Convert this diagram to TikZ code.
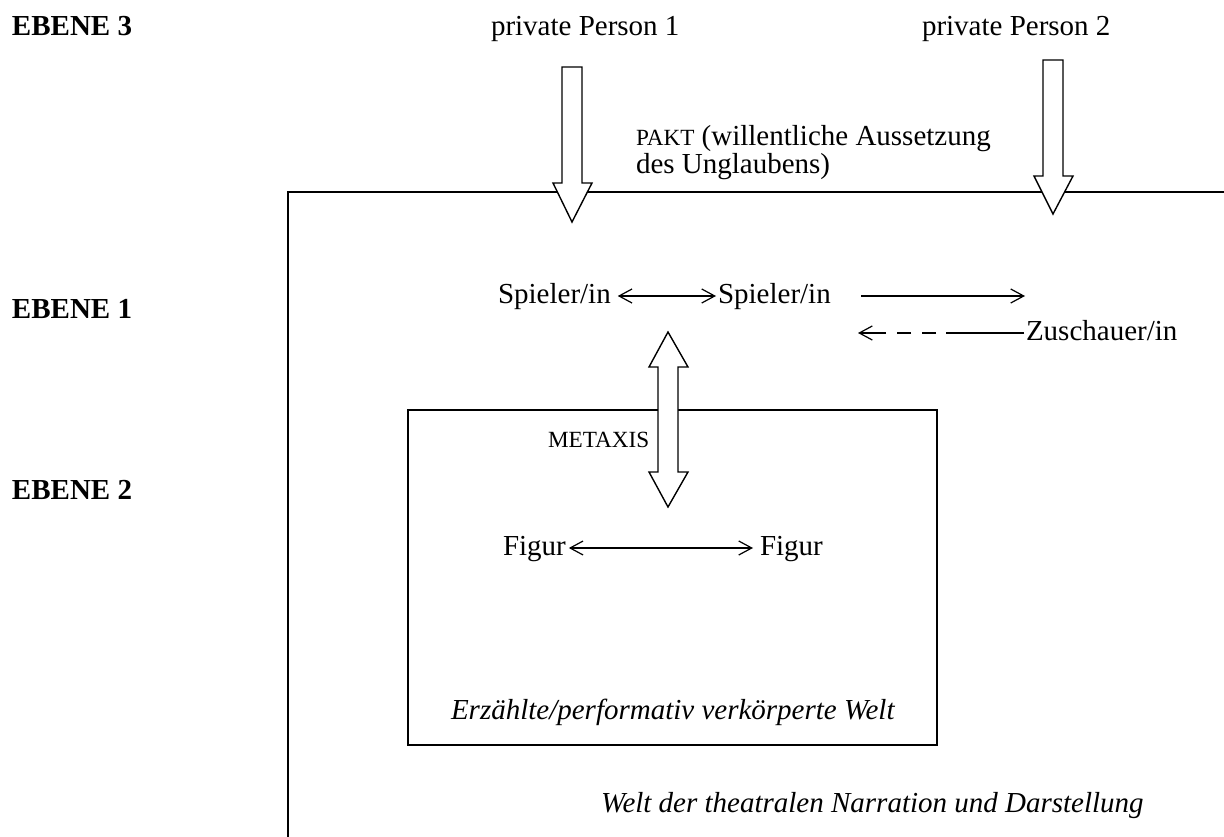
\documentclass[tikz,border=0pt]{standalone}
\usepackage{fontspec}
\setmainfont{Liberation Serif}
\usetikzlibrary{arrows.meta}
\newcommand\smallcapsize{\fontsize{23.2}{27}\selectfont}
\tikzset{
  txt/.style={inner sep=0pt, outer sep=0pt, anchor=base west, font=\fontsize{29}{33}\selectfont},
  lvl/.style={txt, font=\fontsize{29}{33}\selectfont\bfseries},
  blockarrow/.style={draw, line width=1.4pt, fill=white, line join=miter},
  barb/.tip={Straight Barb[length=13pt,width=14pt,line width=1.2pt]},
  conn/.style={line width=1.2pt, barb-barb},
  connr/.style={line width=1.2pt, -barb},
  box/.style={line width=2pt},
}
\begin{document}
\begin{tikzpicture}[x=1pt,y=-1pt]
\useasboundingbox (0,0) rectangle (1224,837);
% level labels
\node[lvl] (e3) at (12,36) {EBENE 3};
\node[lvl] (e1) at (12,318) {EBENE 1};
\node[lvl] (e2) at (12,499) {EBENE 2};
% private persons
\node[txt] (p1) at (491,36) {private Person 1};
\node[txt] (p2) at (922,36) {private Person 2};
% outer box (world of theatrical narration)
\draw[box] (1224,192) -- (288,192) -- (288,837);
% block arrows down
\draw[blockarrow] (562,67) -- (582,67) -- (582,183) -- (592,183) -- (572,222) -- (553,183) -- (562,183) -- cycle;
\draw[blockarrow] (1043,60) -- (1063,60) -- (1063,176) -- (1073,176) -- (1053,214) -- (1034,176) -- (1043,176) -- cycle;
% PAKT text
\node[txt] (pakt) at (636,146) {{\smallcapsize PAKT} (willentliche Aussetzung};
\node[txt] (pakt2) at (636,174) {des Unglaubens)};
% level 1
\node[txt] (s1) at (498,303) {Spieler/in};
\node[txt] (s2) at (718,303) {Spieler/in};
\draw[conn] ([xshift=7pt,yshift=7pt]s1.base east) -- ([xshift=-2pt,yshift=7pt]s2.base west);
\coordinate (a1) at (861,296);
\coordinate (a2) at (1025,296);
\draw[connr] (a1) -- (a2);
\node[txt] (zu) at (1026,340) {Zuschauer/in};
\coordinate (b1) at (858,333);
\draw[connr, dash pattern=on 78pt off 10pt on 14pt off 11pt on 14pt off 11pt on 60pt] ([xshift=-2pt,yshift=7pt]zu.base west) -- (b1);
% inner box
\draw[box] (408,410) rectangle (937,745);
% METAXIS double block arrow
\draw[blockarrow] (658,367) -- (649,367) -- (668,332) -- (688,367) -- (678,367) -- (678,472) -- (688,472) -- (668,507) -- (649,472) -- (658,472) -- cycle;
\node[txt, font=\smallcapsize] (mx) at (548,447) {METAXIS};
% level 2
\node[txt] (f1) at (503,555) {Figur};
\node[txt] (f2) at (760,555) {Figur};
\draw[conn] ([xshift=3pt,yshift=7pt]f1.base east) -- ([xshift=-7pt,yshift=7pt]f2.base west);
% captions
\node[txt, font=\fontsize{29}{33}\selectfont\itshape] (w2) at (451,719) {Erzählte/performativ verkörperte Welt};
\node[txt, font=\fontsize{29}{33}\selectfont\itshape] (w1) at (601,812) {Welt der theatralen Narration und Darstellung};
\end{tikzpicture}
\end{document}
